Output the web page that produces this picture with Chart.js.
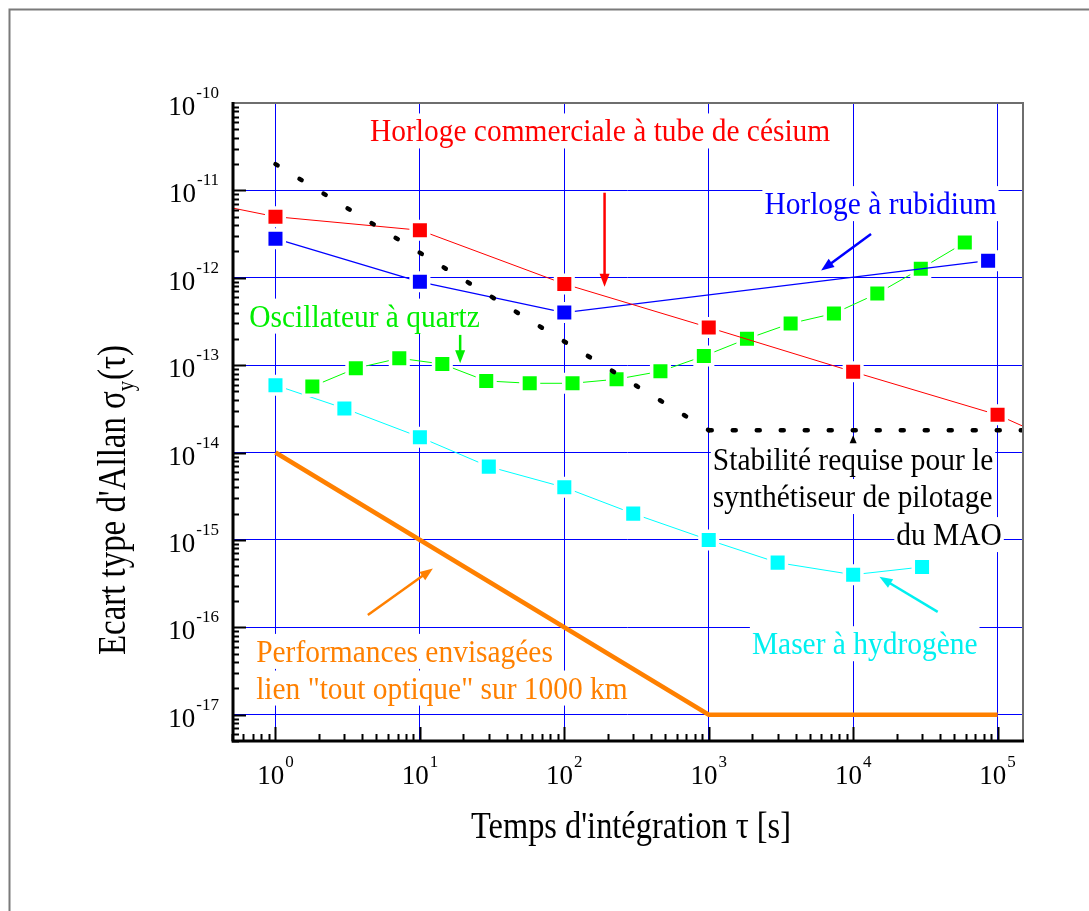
<!DOCTYPE html>
<html lang="fr">
<head>
<meta charset="utf-8">
<title>Ecart type d'Allan</title>
<script src="https://cdn.jsdelivr.net/npm/chart.js@4/dist/chart.umd.min.js"></script>
<style>
  html, body { margin: 0; padding: 0; background: #fff; }
  #wrap { width: 1089px; height: 911px; }
</style>
</head>
<body>
<div id="wrap"><canvas id="allanChart" width="1089" height="911"></canvas></div>
<script>
// valeurs : temps d'intégration (s) / écart type d'Allan
var cesiumTau = [0.5, 1, 10, 100, 1000, 1e4, 1e5, 1.5e5];
var cesiumSigma = [6.3e-12, 5.0e-12, 3.5e-12, 8.5e-13, 2.7e-13, 8.4e-14, 2.7e-14, 2.0e-14];
var cesiumMarked = [false, true, true, true, true, true, true, false];

var rubidiumTau = [1, 10, 100, 8.6e4];
var rubidiumSigma = [2.8e-12, 9.0e-13, 4.0e-13, 1.57e-12];

var quartzTau = [1.8, 3.6, 7.2, 14.3, 28.8, 57.6, 114, 230, 463, 925, 1840, 3690, 7360, 14700, 29400, 59300];
var quartzSigma = [5.7e-14, 9.2e-14, 1.2e-13, 1.03e-13, 6.6e-14, 6.2e-14, 6.2e-14, 6.9e-14, 8.5e-14, 1.27e-13,
                   2.0e-13, 3.0e-13, 3.9e-13, 6.6e-13, 1.27e-12, 2.53e-12];

var maserTau = [1, 3, 10, 30, 100, 300, 1000, 3000, 1e4, 3e4];
var maserSigma = [5.9e-14, 3.2e-14, 1.5e-14, 6.9e-15, 4.0e-15, 2.0e-15, 1.0e-15, 5.5e-16, 4.0e-16, 4.9e-16];

var optiqueTau = [1, 1000, 1e5];
var optiqueSigma = [1e-14, 1e-17, 1e-17];

var requisTau = [1, 1000, 1.5e5];
var requisSigma = [2e-11, 1.8e-14, 1.8e-14];

var xDecades = [1, 10, 100, 1000, 1e4, 1e5];
var xExponents = ['0', '1', '2', '3', '4', '5'];
var yDecades = [1e-17, 1e-16, 1e-15, 1e-14, 1e-13, 1e-12, 1e-11, 1e-10];
var yExponents = ['-17', '-16', '-15', '-14', '-13', '-12', '-11', '-10'];

var SERIF = '"Liberation Serif", "Times New Roman", serif';

// textes et flèches, placés en coordonnées des données
var notes = [
  { lines: ['Horloge commerciale à tube de césium'], color: '#ff0000', x: 177, y: [3.63e-11], align: 'center' },
  { lines: ['Horloge à rubidium'], color: '#0000ff', x: 15460, y: [5.35e-12], align: 'center' },
  { lines: ['Oscillateur à quartz'], color: '#00ee00', x: 4.14, y: [2.76e-13], align: 'center' },
  { lines: ['Maser à hydrogène'], color: '#00f0f0', x: 12020, y: [4.92e-17], align: 'center' },
  { lines: ['Performances envisagées', 'lien "tout optique" sur 1000 km'], color: '#ff8000', x: 0.735, y: [4.02e-17, 1.53e-17], align: 'left' },
  { lines: ['Stabilité requise pour le', 'synthétiseur de pilotage'], color: '#000', x: 1068, y: [6.3e-15, 2.38e-15], align: 'left' },
  { lines: ['du MAO'], color: '#000', x: 1.07e5, y: [8.73e-16], align: 'right' }
];
var arrows = [
  { from: [190, 9.4e-12], to: [190, 7.9e-13], color: '#ff0000' },
  { from: [1.33e4, 3.16e-12], to: [6e3, 1.21e-12], color: '#0000ff' },
  { from: [19, 2.22e-13], to: [19, 1.05e-13], color: '#00ee00' },
  { from: [3.85e4, 1.5e-16], to: [1.52e4, 3.78e-16], color: '#00f0f0' },
  { from: [4.36, 1.38e-16], to: [12.3, 4.71e-16], color: '#ff8000' }
];

function toPoints(xs, ys) {
  return xs.map(function(x, i) { return { x: x, y: ys[i] }; });
}

function serie(label, xs, ys, color, width) {
  return {
    label: label,
    data: toPoints(xs, ys),
    showLine: true,
    borderColor: color,
    borderWidth: width,
    backgroundColor: color,
    pointStyle: 'rect',
    pointRadius: 12.4,
    pointHoverRadius: 12.4,
    pointBackgroundColor: color,
    pointBorderColor: '#ffffff',
    pointBorderWidth: 3.5,
    tension: 0
  };
}

var requis = {
  label: 'Stabilité requise',
  data: toPoints(requisTau, requisSigma),
  showLine: true,
  borderColor: '#000',
  borderWidth: 4.5,
  borderCapStyle: 'round',
  pointRadius: 0,
  segment: {
    borderDash: function(ctx) { return ctx.p0DataIndex === 0 ? [2.5, 25.7] : [3, 21]; }
  }
};

var optique = {
  label: 'Performances envisagées',
  data: toPoints(optiqueTau, optiqueSigma),
  showLine: true,
  borderColor: '#ff8000',
  borderWidth: 4.5,
  pointRadius: 0
};

var cesium = serie('Césium', cesiumTau, cesiumSigma, '#ff0000', 1);
cesium.pointRadius = cesiumMarked.map(function(m) { return m ? 12.4 : 0; });
cesium.pointHoverRadius = cesium.pointRadius;

var datasets = [
  requis,
  optique,
  cesium,
  serie('Rubidium', rubidiumTau, rubidiumSigma, '#0000ff', 1.3),
  serie('Quartz', quartzTau, quartzSigma, '#00ff00', 1),
  serie('Maser', maserTau, maserSigma, '#00ffff', 1)
];

// texte en plusieurs morceaux (exposants, indices)
function runsWidth(ctx, runs) {
  var w = 0;
  runs.forEach(function(r) {
    ctx.font = r.size + 'px ' + SERIF;
    r.w = ctx.measureText(r.t).width;
    w += r.w + (r.gap || 0);
  });
  return w;
}
function drawRuns(ctx, runs, x, y) {
  var cx = x;
  runs.forEach(function(r) {
    ctx.font = r.size + 'px ' + SERIF;
    ctx.fillText(r.t, cx + (r.gap || 0), y + (r.dy || 0));
    cx += r.w + (r.gap || 0);
  });
}
function powerRuns(exp) {
  return [{ t: '10', size: 27 }, { t: exp, size: 17, dy: -17, gap: 1 }];
}

function arrow(ctx, x0, y0, x1, y1, color) {
  var a = Math.atan2(y1 - y0, x1 - x0);
  var len = 13, half = 5;
  ctx.strokeStyle = color;
  ctx.fillStyle = color;
  ctx.lineWidth = 2.5;
  ctx.beginPath();
  ctx.moveTo(x0, y0);
  ctx.lineTo(x1 - Math.cos(a) * len * 0.8, y1 - Math.sin(a) * len * 0.8);
  ctx.stroke();
  ctx.beginPath();
  ctx.moveTo(x1, y1);
  ctx.lineTo(x1 - Math.cos(a) * len - Math.sin(a) * half, y1 - Math.sin(a) * len + Math.cos(a) * half);
  ctx.lineTo(x1 - Math.cos(a) * len + Math.sin(a) * half, y1 - Math.sin(a) * len - Math.cos(a) * half);
  ctx.closePath();
  ctx.fill();
}

var decor = {
  id: 'decor',
  beforeDraw: function(chart) {
    var ctx = chart.ctx;
    ctx.save();
    ctx.fillStyle = '#fff';
    ctx.fillRect(0, 0, chart.width, chart.height);
    ctx.strokeStyle = '#7a7a7a';
    ctx.lineWidth = 2;
    ctx.beginPath();
    ctx.moveTo(9.5, chart.height);
    ctx.lineTo(9.5, 9.5);
    ctx.lineTo(chart.width, 9.5);
    ctx.stroke();
    ctx.restore();
  },
  afterDatasetsDraw: function(chart) {
    var ctx = chart.ctx, xs = chart.scales.x, ys = chart.scales.y;
    var size = 32, narrow = 0.92;
    ctx.save();
    ctx.font = size + 'px ' + SERIF;
    ctx.textBaseline = 'alphabetic';
    ctx.textAlign = 'left';
    notes.forEach(function(n) {
      var ax = xs.getPixelForValue(n.x);
      n.lines.forEach(function(line, i) {
        var by = ys.getPixelForValue(n.y[i]);
        var w = ctx.measureText(line).width * narrow;
        var left = n.align === 'center' ? ax - w / 2 : (n.align === 'right' ? ax - w : ax);
        ctx.fillStyle = '#fff';
        ctx.fillRect(left - 2, by - 28, w + 4, 35);
        ctx.fillStyle = n.color;
        ctx.save();
        ctx.translate(left, by);
        ctx.scale(narrow, 1);
        ctx.fillText(line, 0, 0);
        ctx.restore();
      });
    });
    arrows.forEach(function(a) {
      arrow(ctx, xs.getPixelForValue(a.from[0]), ys.getPixelForValue(a.from[1]),
            xs.getPixelForValue(a.to[0]), ys.getPixelForValue(a.to[1]), a.color);
    });
    // petite pointe sous la ligne pointillée
    var tx = xs.getPixelForValue(1e4), ty = ys.getPixelForValue(requisSigma[2]) + 5;
    ctx.fillStyle = '#000';
    ctx.beginPath();
    ctx.moveTo(tx, ty);
    ctx.lineTo(tx - 3.5, ty + 8);
    ctx.lineTo(tx + 3.5, ty + 8);
    ctx.closePath();
    ctx.fill();
    ctx.restore();
  },
  afterDraw: function(chart) {
    var ctx = chart.ctx, xs = chart.scales.x, ys = chart.scales.y, area = chart.chartArea;
    ctx.save();
    // cadre haut et droit
    ctx.strokeStyle = '#6e6e6e';
    ctx.lineWidth = 2;
    ctx.beginPath();
    ctx.moveTo(area.left, area.top);
    ctx.lineTo(area.right, area.top);
    ctx.lineTo(area.right, area.bottom);
    ctx.stroke();

    // graduations intérieures
    ctx.strokeStyle = '#000';
    ctx.lineWidth = 2;
    ctx.beginPath();
    var d, k, v, p;
    for (d = 0.1; d <= 1e5; d *= 10) {
      for (k = 1; k <= 9; k++) {
        v = k * d;
        if (v < xs.min * 0.999 || v > xs.max) continue;
        p = Math.round(xs.getPixelForValue(v)) + 0.5;
        ctx.moveTo(p, area.bottom);
        ctx.lineTo(p, area.bottom - (k === 1 ? 14 : 7));
      }
    }
    for (d = 1e-18; d <= 1e-10; d *= 10) {
      for (k = 1; k <= 9; k++) {
        v = k * d;
        if (v < ys.min * 0.999 || v > ys.max * 1.001) continue;
        p = Math.round(ys.getPixelForValue(v)) + 0.5;
        ctx.moveTo(area.left, p);
        ctx.lineTo(area.left + (k === 1 ? 14 : 7), p);
      }
    }
    ctx.stroke();

    // axes gauche et bas
    ctx.lineWidth = 3;
    ctx.beginPath();
    ctx.moveTo(area.left + 1, area.top - 1);
    ctx.lineTo(area.left + 1, area.bottom);
    ctx.lineTo(area.right + 1, area.bottom);
    ctx.stroke();

    // étiquettes 10^n
    ctx.fillStyle = '#000';
    ctx.textAlign = 'left';
    ctx.textBaseline = 'alphabetic';
    yDecades.forEach(function(val, i) {
      var runs = powerRuns(yExponents[i]);
      var w = runsWidth(ctx, runs);
      drawRuns(ctx, runs, area.left - 13 - w, ys.getPixelForValue(val) + 12);
    });
    xDecades.forEach(function(val, i) {
      var runs = powerRuns(xExponents[i]);
      var w = runsWidth(ctx, runs);
      drawRuns(ctx, runs, xs.getPixelForValue(val) - w / 2, area.bottom + 43);
    });

    // titre de l'axe x (police étroite)
    var xt = [{ t: 'Temps d\'intégration τ [s]', size: 38 }];
    var xw = runsWidth(ctx, xt);
    var sx = 320 / xw;
    ctx.save();
    ctx.translate(631 - 160, area.bottom + 97);
    ctx.scale(sx, 1);
    drawRuns(ctx, xt, 0, 0);
    ctx.restore();

    // titre de l'axe y
    var yt = [
      { t: 'Ecart type d\'Allan σ', size: 40 },
      { t: 'y', size: 25, dy: 9 },
      { t: '(τ)', size: 40, gap: 1 }
    ];
    var yw = runsWidth(ctx, yt);
    var sy = 310 / yw;
    ctx.save();
    ctx.translate(125, 500 + 155);
    ctx.rotate(-Math.PI / 2);
    ctx.scale(sy, 1);
    drawRuns(ctx, yt, 0, 0);
    ctx.restore();
    ctx.restore();
  }
};

var ctx = document.getElementById('allanChart').getContext('2d');
new Chart(ctx, {
  type: 'scatter',
  data: { datasets: datasets },
  plugins: [decor],
  options: {
    responsive: false,
    animation: false,
    events: [],
    layout: { padding: { left: 0, top: 103, right: 66, bottom: 0 } },
    plugins: { legend: { display: false }, tooltip: { enabled: false } },
    scales: {
      x: {
        type: 'logarithmic',
        min: 0.5,
        max: 1.5e5,
        afterBuildTicks: function(axis) { axis.ticks = xDecades.map(function(v) { return { value: v }; }); },
        afterFit: function(axis) { axis.height = 170; },
        ticks: { display: false },
        border: { display: false },
        grid: { color: '#0000ff', lineWidth: 1, drawTicks: false }
      },
      y: {
        type: 'logarithmic',
        min: 5.0e-18,
        max: 1e-10,
        afterBuildTicks: function(axis) { axis.ticks = yDecades.slice(0, 7).map(function(v) { return { value: v }; }); },
        afterFit: function(axis) { axis.width = 232; },
        ticks: { display: false },
        border: { display: false },
        grid: { color: '#0000ff', lineWidth: 1, drawTicks: false }
      }
    }
  }
});
</script>
</body>
</html>
